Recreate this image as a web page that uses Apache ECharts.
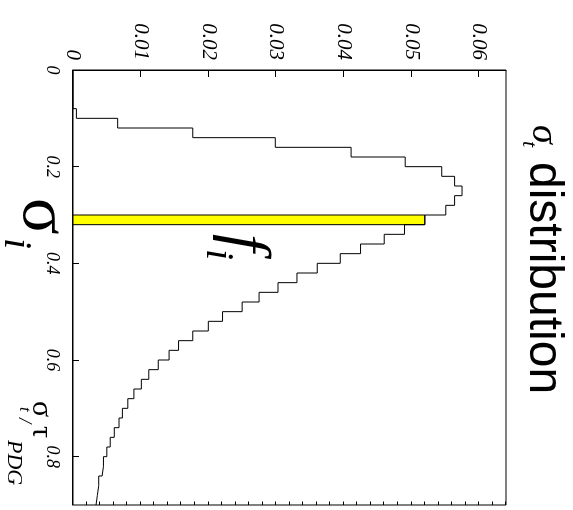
<!DOCTYPE html>
<html>
<head>
<meta charset="utf-8">
<script src="https://cdn.jsdelivr.net/npm/echarts@6/dist/echarts.min.js"></script>
<style>
  html, body { margin: 0; padding: 0; background: #fff; overflow: hidden; }
  #stage { position: relative; width: 573px; height: 510px; overflow: hidden; }
  /* the plot is laid out upright, then turned a quarter turn clockwise */
  #chart { position: absolute; left: 0; top: 0; width: 510px; height: 573px;
           transform-origin: 0 0; transform: translate(573px, 0) rotate(90deg); }
</style>
</head>
<body>
<div id="stage"><div id="chart"></div></div>
<script>
// histogram binning of sigma_t / tau_PDG
const binStart = 0;
const binWidth = 0.02;
const binCount = 45;

// normalised content of each bin
const binValues = [
  0, 0, 0, 0, 0.0005, 0.0066, 0.0177, 0.0299, 0.0411, 0.0491,
  0.0545, 0.0564, 0.0575, 0.0564, 0.0551, 0.0520, 0.0490, 0.0460, 0.0425, 0.0395,
  0.0361, 0.0331, 0.0303, 0.0275, 0.0250, 0.0221, 0.0200, 0.0177, 0.0156, 0.0142,
  0.0126, 0.0112, 0.0101, 0.0090, 0.0081, 0.0073, 0.0068, 0.0061, 0.0055, 0.0050,
  0.0045, 0.0043, 0.0038, 0.0036, 0.0034
];

// the bin picked out as sigma_i with content f_i
const highlightBin = 15;

// axis ranges
const sigmaRange = [0, 0.9];
const sigmaStep = 0.2;
const freqRange = [0, 0.064];
const freqStep = 0.01;
const freqMinorStep = 0.002;

const edge = i => +(binStart + i * binWidth).toFixed(6);

// step outline: each point is a bin's low edge with its content
const outline = binValues.map((v, i) => [edge(i), v]);
outline.push([edge(binCount), binValues[binCount - 1]]);

const highlight = [[edge(highlightBin), edge(highlightBin + 1), binValues[highlightBin]]];

const serif = '"Liberation Serif", "Times New Roman", serif';
const sans = '"Liberation Sans", Arial, Helvetica, sans-serif';

const chart = echarts.init(document.getElementById('chart'), null, { renderer: 'canvas' });

const option = {
  animation: false,
  backgroundColor: '#fff',
  grid: {
    left: 70, right: 5, top: 67, bottom: 73,
    show: true, borderColor: '#000', borderWidth: 1, containLabel: false
  },
  xAxis: {
    type: 'value',
    min: sigmaRange[0], max: sigmaRange[1], interval: sigmaStep,
    axisLine: { show: true, lineStyle: { color: '#000', width: 1 } },
    axisTick: { show: true, inside: true, length: 6, lineStyle: { color: '#000', width: 1 } },
    axisLabel: {
      color: '#000', fontFamily: serif, fontStyle: 'italic', fontSize: 18,
      margin: 12, showMaxLabel: false
    },
    splitLine: { show: false }
  },
  yAxis: [
    {
      type: 'value',
      min: freqRange[0], max: freqRange[1], interval: freqStep,
      axisLine: { show: true, lineStyle: { color: '#000', width: 1 } },
      axisTick: { show: true, inside: true, length: 7, lineStyle: { color: '#000', width: 1 } },
      axisLabel: {
        color: '#000', fontFamily: serif, fontStyle: 'italic', fontSize: 21,
        margin: 10, showMaxLabel: false
      },
      splitLine: { show: false }
    },
    {
      type: 'value',
      min: freqRange[0], max: freqRange[1], interval: freqMinorStep,
      axisLine: { show: false },
      axisTick: { show: true, inside: true, length: 3.5, lineStyle: { color: '#000', width: 1 } },
      axisLabel: { show: false },
      splitLine: { show: false }
    }
  ],
  series: [
    {
      type: 'custom',
      name: 'selected bin',
      yAxisIndex: 0,
      data: highlight,
      z: 2,
      renderItem: function (params, api) {
        const p0 = api.coord([api.value(0), 0]);
        const p1 = api.coord([api.value(1), api.value(2)]);
        return {
          type: 'rect',
          shape: {
            x: Math.min(p0[0], p1[0]), y: Math.min(p0[1], p1[1]),
            width: Math.abs(p1[0] - p0[0]), height: Math.abs(p1[1] - p0[1])
          },
          style: { fill: '#ffff00', stroke: '#000', lineWidth: 1 }
        };
      }
    },
    {
      type: 'line',
      name: 'sigma_t',
      yAxisIndex: 0,
      data: outline,
      step: 'end',
      symbol: 'none',
      z: 3,
      lineStyle: { color: '#000', width: 1 }
    }
  ],
  graphic: [
    // title
    { type: 'text', x: 125, y: 30, style: { text: 'σ', font: 'italic 38px ' + serif, fill: '#000', verticalAlign: 'middle' } },
    { type: 'text', x: 141, y: 44, style: { text: 't', font: 'italic 22px ' + serif, fill: '#000', verticalAlign: 'middle' } },
    { type: 'text', x: 162, y: 30, style: { text: 'distribution', font: '48px ' + sans, fill: '#000', verticalAlign: 'middle' } },
    // axis title
    { type: 'text', x: 401, y: 532, style: { text: 'σ', font: '30px ' + serif, fill: '#000', verticalAlign: 'middle' } },
    { type: 'text', x: 407, y: 549, style: { text: 't', font: 'italic 17px ' + serif, fill: '#000', verticalAlign: 'middle' } },
    { type: 'text', x: 418, y: 549, style: { text: '/', font: 'italic 19px ' + serif, fill: '#000', verticalAlign: 'middle' } },
    { type: 'text', x: 426, y: 532, style: { text: 'τ', font: '30px ' + serif, fill: '#000', verticalAlign: 'middle' } },
    { type: 'text', x: 440, y: 559, style: { text: 'PDG', font: 'italic 22px ' + serif, fill: '#000', verticalAlign: 'middle' } },
    // sigma_i marker under the axis
    { type: 'text', x: 198, y: 531, style: { text: 'σ', font: '68px ' + serif, fill: '#000', verticalAlign: 'middle' } },
    { type: 'text', x: 238, y: 557, style: { text: 'i', font: 'italic 40px ' + serif, fill: '#000', verticalAlign: 'middle' } },
    // f_i next to the selected bin
    { type: 'text', x: 234, y: 329, style: { text: 'f', font: 'italic 64px ' + serif, fill: '#000', verticalAlign: 'middle' } },
    { type: 'text', x: 249, y: 355, style: { text: 'i', font: 'italic 40px ' + serif, fill: '#000', verticalAlign: 'middle' } }
  ]
};

chart.setOption(option);
</script>
</body>
</html>
